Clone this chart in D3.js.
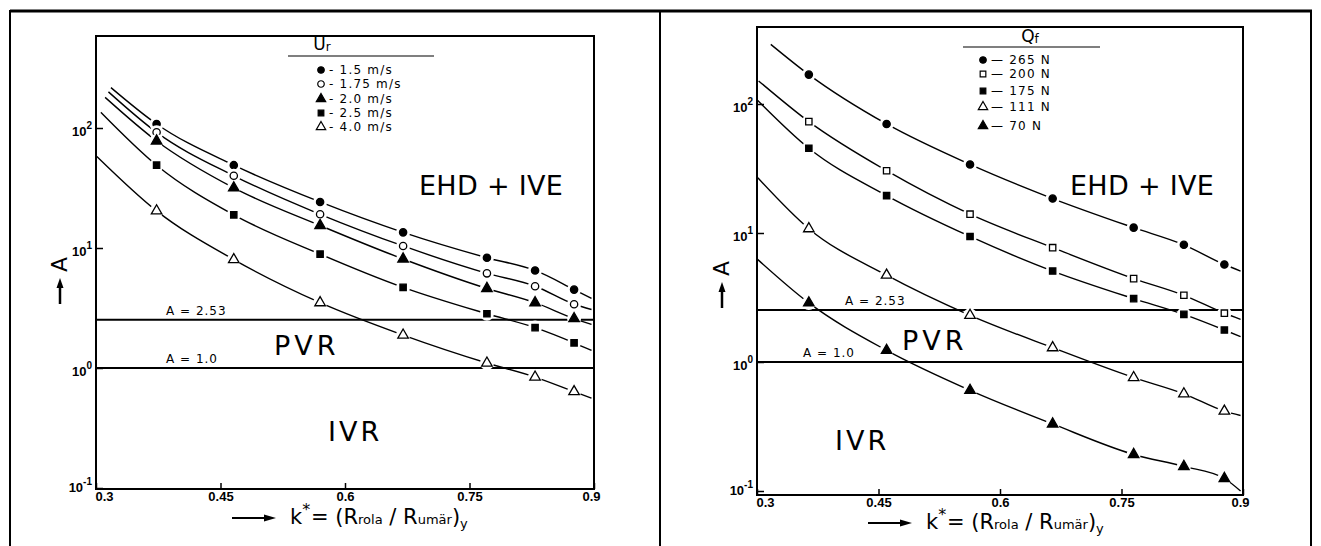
<!DOCTYPE html>
<html><head><meta charset="utf-8">
<script src="https://cdn.jsdelivr.net/npm/d3@7/dist/d3.min.js"></script>
<style>
body{margin:0;background:#fff;}
svg{display:block;font-family:"DejaVu Sans",sans-serif;}
</style></head>
<body><svg id="c" width="1321" height="546"></svg>
<script>
// ---------------- data ----------------
const xTicks = [0.3, 0.45, 0.6, 0.75, 0.9];
const xTickLabels = ["0.3", "0.45", "0.6", "0.75", "0.9"];
const yTicks = [0.1, 1, 10, 100];
const yTickExp = ["-1", "0", "1", "2"];

// left panel : Ur
const leftK = [0.373, 0.466, 0.570, 0.670, 0.771, 0.829, 0.876];
const leftNames = ["1.5 m/s", "1.75 m/s", "2.0 m/s", "2.5 m/s", "4.0 m/s"];
const leftA15 = [108, 49, 24.2, 13.5, 8.3, 6.5, 4.5];
const leftA175 = [92, 40, 19.1, 10.4, 6.15, 4.8, 3.4];
const leftA20 = [78, 31.7, 15.4, 8.1, 4.6, 3.5, 2.58];
const leftA25 = [49, 18.9, 8.9, 4.7, 2.83, 2.17, 1.62];
const leftA40 = [20.4, 8.0, 3.5, 1.88, 1.1, 0.84, 0.635];
const leftStartK = [0.318, 0.315, 0.311, 0.306, 0.301];
const leftStartA = [217, 200, 180, 135, 58];
const leftEndA = [3.8, 3.07, 2.31, 1.4, 0.56];

// right panel : Qf
const rightK = [0.364, 0.460, 0.563, 0.665, 0.765, 0.827, 0.877];
const rightNames = ["265 N", "200 N", "175 N", "111 N", "70 N"];
const rightA265 = [169, 70, 34, 18.5, 11, 8.1, 5.7];
const rightA200 = [73, 30.4, 14, 7.7, 4.43, 3.29, 2.39];
const rightA175 = [45.4, 19.5, 9.4, 5.07, 3.1, 2.34, 1.77];
const rightA111 = [10.8, 4.71, 2.3, 1.29, 0.757, 0.567, 0.416];
const rightA70 = [2.87, 1.23, 0.603, 0.331, 0.192, 0.155, 0.125];
const rightStartK = [0.317, 0.302, 0.300, 0.301, 0.300];
const rightStartA = [290, 151, 108, 26.8, 6.3];
const rightEndA = [5.07, 2.14, 1.57, 0.385, 0.1];

const regimeLines = [2.53, 1.0];
const regimeLabels = ["A = 2.53", "A = 1.0"];

// ---------------- drawing ----------------
const svg = d3.select("#c");
// outer frame
svg.append("line").attr("x1", 10).attr("x2", 1312).attr("y1", 11).attr("y2", 11).attr("stroke", "#000").attr("stroke-width", 3);
[10, 660, 1311].forEach(xx => svg.append("line").attr("x1", xx).attr("x2", xx).attr("y1", 10).attr("y2", 546).attr("stroke", "#000").attr("stroke-width", 2));

function symbolFor(kind) {
  if (kind.startsWith("circle")) return d3.symbolCircle;
  if (kind.startsWith("tri")) return d3.symbolTriangle;
  return d3.symbolSquare;
}
function sizeFor(kind) {
  if (kind.startsWith("circle")) return 42;
  if (kind.startsWith("tri")) return 48;
  return 40;
}

function drawPanel(cfg) {
  const g = svg.append("g");
  const x = d3.scaleLinear().domain([0.3, 0.9]).range([cfg.x0, cfg.x1]);
  const yTopVal = Math.pow(10, (cfg.zeroY - cfg.y0) / cfg.decade);
  const yBotVal = Math.pow(10, (cfg.zeroY - cfg.y1) / cfg.decade);
  const y = d3.scaleLog().domain([yBotVal, yTopVal]).range([cfg.y1, cfg.y0]);

  // plot box
  g.append("rect").attr("x", cfg.x0).attr("y", cfg.y0).attr("width", cfg.x1 - cfg.x0).attr("height", cfg.y1 - cfg.y0)
    .attr("fill", "none").attr("stroke", "#000").attr("stroke-width", 2);

  // x axis
  const xa = g.append("g").attr("transform", `translate(0,${cfg.y1})`)
    .call(d3.axisBottom(x).tickValues(xTicks).tickSize(-6).tickPadding(3).tickFormat((d, i) => xTickLabels[i]));
  xa.select(".domain").remove();
  xa.selectAll("line").attr("stroke", "#000").attr("stroke-width", 1.5);
  xa.selectAll("text").attr("font-size", 13).attr("font-weight", "bold").attr("fill", "#000")
    .attr("dx", (d, i) => i === 0 ? 8 : (i === xTicks.length - 1 ? -3 : 0));

  // y axis
  const ya = g.append("g").attr("transform", `translate(${cfg.x0},0)`)
    .call(d3.axisLeft(y).tickValues(yTicks).tickSize(-7).tickPadding(4).tickFormat(() => ""));
  ya.select(".domain").remove();
  ya.selectAll("line").attr("stroke", "#000").attr("stroke-width", 1.5);
  ya.selectAll(".tick text").each(function (d, i) {
    const t = d3.select(this).attr("font-size", 13).attr("font-weight", "bold").attr("fill", "#000").attr("dy", i === 0 ? "0.3em" : "0.55em");
    t.append("tspan").text("10");
    t.append("tspan").attr("dy", "-0.7em").attr("font-size", 10).text(yTickExp[i]);
  });

  // regime lines
  regimeLines.forEach((v, i) => {
    g.append("line").attr("x1", cfg.x0).attr("x2", cfg.x1).attr("y1", y(v)).attr("y2", y(v))
      .attr("stroke", "#000").attr("stroke-width", 2);
    g.append("text").attr("x", cfg.labX[i]).attr("y", y(v) - 5).attr("font-size", 12).attr("fill", "#000")
      .attr("letter-spacing", 1).text(regimeLabels[i]);
  });

  // region labels
  cfg.regions.forEach(r => {
    g.append("text").attr("x", r[1]).attr("y", r[2]).attr("font-size", 27)
      .attr("letter-spacing", r[3]).attr("fill", "#000").text(r[0]);
  });

  // curves
  const line = d3.line().x(d => x(d[0])).y(d => y(d[1])).curve(d3.curveMonotoneX);
  cfg.series.forEach((vals, si) => {
    const pts = [[cfg.startK[si], cfg.startA[si]]].concat(cfg.k.map((k, j) => [k, vals[j]])).concat([[0.897, cfg.endA[si]]]);
    g.append("path").attr("d", line(pts)).attr("fill", "none").attr("stroke", "#000").attr("stroke-width", 1.4);
  });
  // markers with white gap
  cfg.series.forEach((vals, si) => {
    const kind = cfg.kinds[si];
    const sym = d3.symbol().type(symbolFor(kind)).size(sizeFor(kind));
    cfg.k.forEach((k, j) => {
      g.append("circle").attr("cx", x(k)).attr("cy", y(vals[j])).attr("r", 7).attr("fill", "#fff");
    });
    cfg.k.forEach((k, j) => {
      g.append("path").attr("d", sym()).attr("transform", `translate(${x(k)},${y(vals[j])})`)
        .attr("fill", kind.endsWith("open") ? "#fff" : "#000").attr("stroke", "#000").attr("stroke-width", 1.3);
    });
  });

  // legend
  const L = cfg.legend;
  g.append("text").attr("x", L.hx).attr("y", L.hy).attr("font-size", 17).attr("fill", "#000").attr("text-anchor", "middle").text(L.title[0])
    .append("tspan").attr("font-size", 12).attr("dy", 1).text(L.title[1]);
  g.append("line").attr("x1", L.lx0).attr("x2", L.lx1).attr("y1", L.ly).attr("y2", L.ly).attr("stroke", "#000").attr("stroke-width", 1.2);
  cfg.names.forEach((n, i) => {
    const kind = cfg.kinds[i];
    const sym = d3.symbol().type(symbolFor(kind)).size(sizeFor(kind) * 0.8);
    const yy = L.ys[i];
    g.append("path").attr("d", sym()).attr("transform", `translate(${L.mx},${yy})`)
      .attr("fill", kind.endsWith("open") ? "#fff" : "#000").attr("stroke", "#000").attr("stroke-width", 1.2);
    g.append("text").attr("x", L.mx + 8).attr("y", yy + 4).attr("font-size", 12)
      .attr("letter-spacing", 1.2).attr("fill", "#000").text(L.dash + " " + n);
  });

  // y title: arrow + A
  const ax = cfg.yTitleX;
  g.append("text").attr("transform", `translate(${ax + 7},${cfg.yTitleY}) rotate(-90)`).attr("font-size", 22).attr("fill", "#000").text("A");
  g.append("line").attr("x1", ax).attr("x2", ax).attr("y1", cfg.yTitleY + 32).attr("y2", cfg.yTitleY + 14).attr("stroke", "#000").attr("stroke-width", 2.5);
  g.append("path").attr("d", `M${ax - 3.5},${cfg.yTitleY + 16} L${ax},${cfg.yTitleY + 6} L${ax + 3.5},${cfg.yTitleY + 16} Z`).attr("fill", "#000");

  // x title: arrow + k* = (Rrola / Rumär)y
  const tx = cfg.xTitleX, ty = cfg.xTitleY;
  g.append("line").attr("x1", tx).attr("x2", tx + 36).attr("y1", ty - 6).attr("y2", ty - 6).attr("stroke", "#000").attr("stroke-width", 2);
  g.append("path").attr("d", `M${tx + 32},${ty - 9.5} L${tx + 44},${ty - 6} L${tx + 32},${ty - 2.5} Z`).attr("fill", "#000");
  const k = g.append("text").attr("x", tx + 58).attr("y", ty).attr("font-size", 21).attr("fill", "#000");
  k.append("tspan").text("k");
  k.append("tspan").attr("dy", -9).attr("font-size", 16).text("*");
  const t = g.append("text").attr("x", tx + 79).attr("y", ty).attr("font-size", 21).attr("fill", "#000");
  t.append("tspan").text("= (R");
  t.append("tspan").attr("font-size", 13).text("rola");
  t.append("tspan").text(" / R");
  t.append("tspan").attr("font-size", 13).text("umär");
  t.append("tspan").text(")");
  t.append("tspan").attr("font-size", 13).attr("dy", 4).text("y");
}

drawPanel({
  x0: 96, x1: 594, y0: 36, y1: 489, zeroY: 368, decade: 120,
  k: leftK, series: [leftA15, leftA175, leftA20, leftA25, leftA40],
  startK: leftStartK, startA: leftStartA, endA: leftEndA,
  kinds: ["circle", "circle-open", "tri", "square", "tri-open"],
  names: leftNames,
  labX: [166, 166],
  regions: [["EHD + IVE", 419, 195, 0.3], ["PVR", 274, 355, 4], ["IVR", 328, 441, 3]],
  legend: { title: ["U", "r"], hx: 322, hy: 50, lx0: 288, lx1: 434, ly: 56, mx: 321, ys: [70, 84, 99, 113, 127], dash: "-" },
  yTitleX: 60, yTitleY: 272,
  xTitleX: 232, xTitleY: 524
});

drawPanel({
  x0: 757, x1: 1243, y0: 27, y1: 495, zeroY: 362, decade: 129,
  k: rightK, series: [rightA265, rightA200, rightA175, rightA111, rightA70],
  startK: rightStartK, startA: rightStartA, endA: rightEndA,
  kinds: ["circle", "square-open", "square", "tri-open", "tri"],
  names: rightNames,
  labX: [845, 803],
  regions: [["EHD + IVE", 1070, 195, 0.3], ["PVR", 902, 350, 4], ["IVR", 835, 450, 3]],
  legend: { title: ["Q", "f"], hx: 1030, hy: 42, lx0: 963, lx1: 1100, ly: 47, mx: 983, ys: [60, 74, 91, 107, 126], dash: "—" },
  yTitleX: 722, yTitleY: 276,
  xTitleX: 868, xTitleY: 529
});
</script></body></html>
